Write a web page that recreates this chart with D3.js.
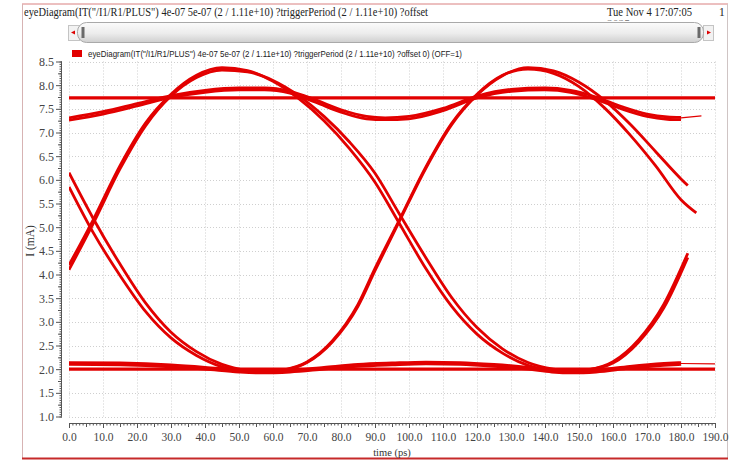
<!DOCTYPE html>
<html>
<head>
<meta charset="utf-8">
<script src="https://cdn.jsdelivr.net/npm/d3@7"></script>
<style>
  html, body { margin: 0; padding: 0; background: #fff; }
  svg { display: block; }
</style>
</head>
<body>
<svg id="chart" width="730" height="460"></svg>
<script>
// ---- chart text ----
const headerText = 'eyeDiagram(IT("/I1/R1/PLUS") 4e-07 5e-07 (2 / 1.11e+10) ?triggerPeriod (2 / 1.11e+10) ?offset';
const dateText = 'Tue Nov 4 17:07:05';
const yearText = '2025';
const pageText = '1';
const legendText = 'eyeDiagram(IT("/I1/R1/PLUS") 4e-07 5e-07 (2 / 1.11e+10) ?triggerPeriod (2 / 1.11e+10) ?offset 0) (OFF=1)';
const xTitle = 'time (ps)';
const yTitle = 'I (mA)';

// ---- tick labels ----
const timeTicks = [0, 10, 20, 30, 40, 50, 60, 70, 80, 90, 100, 110, 120, 130, 140, 150, 160, 170, 180, 190];
const currentTicks = [1.0, 1.5, 2.0, 2.5, 3.0, 3.5, 4.0, 4.5, 5.0, 5.5, 6.0, 6.5, 7.0, 7.5, 8.0, 8.5];

// ---- eye traces: [time (ps), current (mA)] ----
const steadyHigh = [[0, 7.73], [190, 7.73]];
const steadyLow = [[0, 2.0], [190, 2.0]];

const riseFirstA = [[0,4.2],[7,5.14],[15,6.3],[22.5,7.2],[30,7.81],[37.5,8.21],[45,8.37],[52.5,8.31],[60,8.08],[67.5,7.72],[75,7.25],[82.5,6.66],[90,5.95],[97,5.1],[105,4.12],[112.5,3.33],[120,2.74],[127.5,2.34],[135,2.08],[142.5,1.96],[147,1.94],[152.5,1.98],[160,2.16],[167.5,2.62],[175,3.38],[182,4.45]];
const riseFirstB = [[0,4.1],[7,5.06],[15,6.23],[22.5,7.14],[30,7.77],[37.5,8.16],[45,8.32],[52.5,8.28],[60,8.1],[67.5,7.78],[75,7.34],[82.5,6.8],[90,6.14],[97,5.3],[105,4.35],[112.5,3.52],[120,2.88],[127.5,2.43],[135,2.14],[142.5,2.0],[147,1.97],[152.5,1.99],[160,2.13],[167.5,2.57],[175,3.3],[182,4.36]];

const fallFirstA = [[0,6.15],[7,5.2],[15,4.22],[22.5,3.4],[30,2.78],[37.5,2.37],[45,2.1],[52.5,1.97],[57,1.94],[62.5,1.97],[70,2.14],[77.5,2.58],[85,3.33],[90,4.08],[97,5.1],[105,6.25],[112.5,7.16],[120,7.79],[127.5,8.2],[135,8.37],[142.5,8.3],[150,8.06],[157.5,7.68],[165,7.18],[172.5,6.6],[180,6.02],[182,5.88]];
const fallFirstB = [[0,5.85],[7,4.9],[15,3.98],[22.5,3.22],[30,2.66],[37.5,2.29],[45,2.05],[52.5,1.95],[57,1.93],[62.5,1.97],[70,2.15],[77.5,2.6],[85,3.37],[90,4.13],[97,5.13],[105,6.28],[112.5,7.19],[120,7.81],[127.5,8.21],[135,8.34],[142.5,8.25],[150,7.97],[157.5,7.52],[165,6.95],[172.5,6.3],[180,5.58],[184.5,5.3]];

const settleHighA = [[0,7.31],[10,7.44],[20,7.61],[30,7.78],[40,7.89],[50,7.94],[57.5,7.94],[65,7.87],[72.5,7.69],[80,7.48],[87.5,7.34],[93,7.31],[100,7.34],[110,7.51],[120,7.77],[130,7.91],[140,7.94],[147.5,7.89],[155,7.75],[162.5,7.55],[170,7.39],[176,7.33],[180,7.32]];
const settleHighB = [[0,7.26],[10,7.39],[20,7.56],[30,7.74],[40,7.85],[50,7.9],[57.5,7.9],[65,7.83],[72.5,7.64],[80,7.43],[87.5,7.29],[93,7.27],[100,7.29],[110,7.46],[120,7.73],[130,7.87],[140,7.9],[147.5,7.85],[155,7.7],[162.5,7.5],[170,7.34],[176,7.28],[180,7.27]];
const settleHighTail = [[180,7.31],[186,7.35]];

const settleLowA = [[0,2.14],[15,2.13],[30,2.09],[40,2.04],[50,1.98],[57,1.96],[65,1.98],[75,2.04],[85,2.1],[95,2.13],[105,2.15],[115,2.14],[125,2.1],[135,2.04],[142,1.98],[148,1.96],[155,1.98],[165,2.06],[175,2.12],[180,2.14]];
const settleLowB = [[0,2.1],[15,2.09],[30,2.05],[40,2.0],[50,1.94],[57,1.92],[65,1.94],[75,2.0],[85,2.06],[95,2.09],[105,2.11],[115,2.1],[125,2.06],[135,2.0],[142,1.94],[148,1.92],[155,1.94],[165,2.02],[175,2.08],[180,2.1]];
const settleLowTail = [[180,2.12],[190,2.11]];

// ---- layout ----
const svg = d3.select('#chart');
const plotLeft = 69, plotRight = 715, plotTop = 61.5, plotBottom = 416.5;
const traceColor = '#e20000';
const axisColor = '#555';
const serif = '"Liberation Serif", "DejaVu Serif", serif';
const sans = '"Liberation Sans", "DejaVu Sans", sans-serif';

const x = d3.scaleLinear().domain([0, 190]).range([plotLeft, plotRight]);
const y = d3.scaleLinear().domain([1.0, 8.5]).range([plotBottom, plotTop]);

// ---- page frame ----
const frame = svg.append('g');
frame.append('line').attr('x1', 22).attr('x2', 728).attr('y1', 4).attr('y2', 4)
  .attr('stroke', '#d98080').attr('stroke-width', 1);
frame.append('line').attr('x1', 22.5).attr('x2', 22.5).attr('y1', 4).attr('y2', 459)
  .attr('stroke', '#d7b3b3').attr('stroke-width', 1);
frame.append('line').attr('x1', 727.5).attr('x2', 727.5).attr('y1', 4).attr('y2', 459)
  .attr('stroke', '#cfc4c4').attr('stroke-width', 1);
frame.append('line').attr('x1', 22).attr('x2', 728).attr('y1', 458.5).attr('y2', 458.5)
  .attr('stroke', '#c62a2a').attr('stroke-width', 2);

// ---- header ----
svg.append('defs').append('clipPath').attr('id', 'headerClip')
  .append('rect').attr('x', 0).attr('y', 0).attr('width', 730).attr('height', 21);

const header = svg.append('g').attr('font-family', serif).attr('fill', '#222');
header.append('text').attr('x', 24).attr('y', 15.5).attr('font-size', 11.5)
  .attr('textLength', 404).attr('lengthAdjust', 'spacingAndGlyphs').text(headerText);
header.append('text').attr('x', 607).attr('y', 15.5).attr('font-size', 11.5)
  .attr('textLength', 85).attr('lengthAdjust', 'spacingAndGlyphs').text(dateText);
header.append('text').attr('x', 719).attr('y', 15.5).attr('font-size', 11.5).text(pageText);
header.append('text').attr('x', 607).attr('y', 27.5).attr('font-size', 11.5)
  .attr('clip-path', 'url(#headerClip)').attr('fill', '#888').text(yearText);

// ---- scroll bar ----
const grad = svg.select('defs').append('linearGradient').attr('id', 'barGrad')
  .attr('x1', 0).attr('x2', 0).attr('y1', 0).attr('y2', 1);
grad.append('stop').attr('offset', '0%').attr('stop-color', '#fbfbfb');
grad.append('stop').attr('offset', '55%').attr('stop-color', '#ececec');
grad.append('stop').attr('offset', '100%').attr('stop-color', '#cfcfcf');

const bar = svg.append('g');
bar.append('rect').attr('x', 68.5).attr('y', 25.5).attr('width', 11).attr('height', 15)
  .attr('fill', '#f2f2f2').attr('stroke', '#c4c4c4');
bar.append('path').attr('d', 'M71,32.5 L75,30.5 L75,34.5 Z').attr('fill', '#d00');
bar.append('rect').attr('x', 703.5).attr('y', 25.5).attr('width', 10).attr('height', 15)
  .attr('fill', '#f2f2f2').attr('stroke', '#c4c4c4');
bar.append('rect').attr('x', 77.5).attr('y', 22.5).attr('width', 626).attr('height', 20)
  .attr('rx', 9).attr('ry', 9).attr('fill', 'url(#barGrad)').attr('stroke', '#a9a9a9');
bar.append('rect').attr('x', 81.5).attr('y', 27).attr('width', 3).attr('height', 11).attr('fill', '#6a6a6a');
bar.append('rect').attr('x', 697.5).attr('y', 27).attr('width', 3).attr('height', 11).attr('fill', '#6a6a6a');
bar.append('path').attr('d', 'M711,32.5 L707,30.5 L707,34.5 Z').attr('fill', '#d00');

// ---- legend ----
const legend = svg.append('g');
legend.append('rect').attr('x', 72).attr('y', 50).attr('width', 10).attr('height', 7).attr('fill', traceColor);
legend.append('text').attr('x', 88).attr('y', 57).attr('font-family', sans).attr('font-size', 9)
  .attr('fill', '#222').attr('textLength', 374).attr('lengthAdjust', 'spacingAndGlyphs').text(legendText);

// ---- grid ----
const grid = svg.append('g').attr('stroke', '#cfcfcf').attr('stroke-width', 1).attr('stroke-dasharray', '1,2');
grid.selectAll('line.v').data(timeTicks).join('line').attr('class', 'v')
  .attr('x1', d => Math.round(x(d)) + 0.5).attr('x2', d => Math.round(x(d)) + 0.5)
  .attr('y1', plotTop).attr('y2', plotBottom);
grid.selectAll('line.h').data(currentTicks).join('line').attr('class', 'h')
  .attr('x1', plotLeft).attr('x2', plotRight)
  .attr('y1', d => Math.round(y(d)) + 0.5).attr('y2', d => Math.round(y(d)) + 0.5);

// ---- axes ----
const xAxisY = 423;
const xAxis = svg.append('g').attr('transform', `translate(0,${xAxisY})`);
xAxis.append('g')
  .call(d3.axisBottom(x).ticks(190).tickSize(2.5).tickFormat(''))
  .call(g => g.select('.domain').remove())
  .call(g => g.selectAll('line').attr('stroke', axisColor));
xAxis.append('g')
  .call(d3.axisBottom(x).tickValues(d3.range(5, 190, 10)).tickSize(4).tickFormat(''))
  .call(g => g.select('.domain').remove())
  .call(g => g.selectAll('line').attr('stroke', axisColor));
xAxis.append('g')
  .call(d3.axisBottom(x).tickValues(timeTicks).tickSize(5).tickPadding(5).tickFormat(d3.format('.1f')))
  .call(g => g.select('.domain').attr('stroke', axisColor).attr('d', `M${plotLeft},0.5H${plotRight}`))
  .call(g => g.selectAll('line').attr('stroke', axisColor))
  .call(g => g.selectAll('text').attr('font-family', serif).attr('font-size', 11.5).attr('fill', '#444'));

const yAxisX = 62;
const yAxis = svg.append('g').attr('transform', `translate(${yAxisX},0)`);
yAxis.append('g')
  .call(d3.axisLeft(y).tickValues(d3.range(20, 171, 1).map(v => v / 20)).tickSize(2.5).tickFormat(''))
  .call(g => g.select('.domain').remove())
  .call(g => g.selectAll('line').attr('stroke', axisColor));
yAxis.append('g')
  .call(d3.axisLeft(y).tickValues(d3.range(5, 34, 2).map(v => v / 4)).tickSize(4).tickFormat(''))
  .call(g => g.select('.domain').remove())
  .call(g => g.selectAll('line').attr('stroke', axisColor));
yAxis.append('g')
  .call(d3.axisLeft(y).tickValues(currentTicks).tickSize(6).tickPadding(2).tickFormat(d3.format('.1f')))
  .call(g => g.select('.domain').attr('stroke', axisColor).attr('d', `M-0.5,${plotTop}V${plotBottom}`))
  .call(g => g.selectAll('line').attr('stroke', axisColor))
  .call(g => g.selectAll('text').attr('font-family', serif).attr('font-size', 12).attr('fill', '#444'));

svg.append('text').attr('x', (plotLeft + plotRight) / 2).attr('y', 456)
  .attr('text-anchor', 'middle').attr('font-family', serif).attr('font-size', 10.5)
  .attr('fill', '#333').text(xTitle);
svg.append('text').attr('transform', 'translate(34,241) rotate(-90)')
  .attr('text-anchor', 'middle').attr('font-family', serif).attr('font-size', 11.5)
  .attr('fill', '#333').text(yTitle);

// ---- traces ----
svg.select('defs').append('clipPath').attr('id', 'plotClip')
  .append('rect').attr('x', plotLeft).attr('y', 40).attr('width', plotRight - plotLeft + 2).attr('height', 400);

const line = d3.line().x(d => x(d[0])).y(d => y(d[1])).curve(d3.curveMonotoneX);
const traces = svg.append('g').attr('clip-path', 'url(#plotClip)')
  .attr('fill', 'none').attr('stroke', traceColor).attr('stroke-linejoin', 'round');

const traceSet = [
  { data: steadyHigh, w: 3.2 },
  { data: steadyLow, w: 3.2 },
  { data: settleHighA, w: 2.8 },
  { data: settleHighB, w: 2.8 },
  { data: settleHighTail, w: 1.2 },
  { data: settleLowA, w: 2.8 },
  { data: settleLowB, w: 2.8 },
  { data: settleLowTail, w: 1.2 },
  { data: riseFirstA, w: 2.8 },
  { data: riseFirstB, w: 2.8 },
  { data: fallFirstA, w: 2.8 },
  { data: fallFirstB, w: 2.8 }
];
traces.selectAll('path').data(traceSet).join('path')
  .attr('d', d => line(d.data)).attr('stroke-width', d => d.w);
</script>
</body>
</html>
